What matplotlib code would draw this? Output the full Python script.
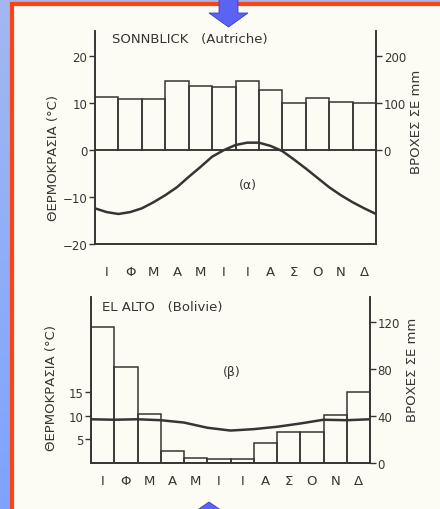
import numpy as np
import matplotlib
matplotlib.use('Agg')
import matplotlib.pyplot as plt
from matplotlib.patches import Rectangle, Polygon

# Data
months = ['Ι', 'Φ', 'Μ', 'Α', 'Μ', 'Ι', 'Ι', 'Α', 'Σ', 'Ο', 'Ν', 'Δ']

# Sonnblick: rain per month (mm), temperature every half month (°C)
sonn_rain = [114, 108, 108, 148, 137, 135, 148, 128, 100, 112, 103, 101]
sonn_temp = [-12.4, -13.2, -13.6, -13.2, -12.4, -11.1, -9.6, -7.9, -5.7, -3.6,
             -1.4, 0.0, 1.1, 1.6, 1.6, 0.9, -0.2, -2.0, -3.9, -5.9,
             -7.9, -9.6, -11.1, -12.4, -13.6]

# El Alto: rain per month (mm), temperature at month boundaries (°C)
alto_rain = [116, 82, 42, 10, 4, 3.5, 3.4, 17, 26, 26, 41, 60]
alto_temp = [9.3, 9.2, 9.3, 9.1, 8.6, 7.5, 6.9, 7.2, 7.7, 8.4, 9.2, 9.1, 9.3]

ink = '#353535'
paper = '#fcfcf4'
W, H = 440, 510

fig = plt.figure(figsize=(4.4, 5.1), dpi=100)

# background: blue gradient, red frame, arrows (pixel coords)
bg = fig.add_axes([0, 0, 1, 1])
bg.set_xlim(0, W)
bg.set_ylim(H, 0)
bg.axis('off')
grad = np.linspace(0, 1, 256).reshape(-1, 1)
bg.imshow(grad, cmap=matplotlib.colors.LinearSegmentedColormap.from_list(
    'bl', ['#a3b8f0', '#7ea3ff']), extent=[0, W, H, 0], aspect='auto')
bg.add_patch(Rectangle((11.5, 5), W, H, facecolor=paper,
                       edgecolor='#ff4212', linewidth=3))
bg.add_patch(Polygon([(219, -2), (238, -2), (238, 14), (248, 14), (228.5, 28),
                      (209, 14), (219, 14)], closed=True,
                     facecolor='#5a63f2', edgecolor='#3a40c0', linewidth=0.6))
bg.add_patch(Polygon([(209, 503), (228, 516), (190, 516)], closed=True,
                     facecolor='#5a63f2', edgecolor='#3a40c0', linewidth=0.6))

font = dict(family='DejaVu Sans', color=ink)


def frame(ax):
    ax.set_facecolor('none')
    ax.spines['top'].set_visible(False)
    for s in ['left', 'right', 'bottom']:
        ax.spines[s].set_color(ink)
        ax.spines[s].set_linewidth(1.2)
    ax.tick_params(colors=ink, labelsize=8.5, width=1, length=4, pad=1.5)


# ---- (a) Sonnblick ----
ax1 = fig.add_axes([95 / W, 1 - 245 / H, 281 / W, 213 / H])
ax1b = ax1.twinx()
frame(ax1)
frame(ax1b)
ax1.set_xlim(0, 12)
ax1.set_ylim(-20, 25.4)
ax1b.set_ylim(-200, 254)
ax1b.bar(np.arange(12) + 0.5, sonn_rain, width=1, facecolor='none',
         edgecolor=ink, linewidth=1.1)
ax1.axhline(0, color=ink, linewidth=1.1)
ax1.plot(np.arange(0, 12.5, 0.5), sonn_temp, color=ink, linewidth=1.8)
ax1.set_yticks([-20, -10, 0, 10, 20])
ax1b.set_yticks([0, 100, 200])
ax1.set_xticks(np.arange(12) + 0.5, months)
ax1.tick_params(axis='x', length=0, pad=15)
for t in ax1.get_xticklabels():
    t.set_fontsize(9.5)

# ---- (b) El Alto ----
ax2 = fig.add_axes([91 / W, 1 - 464 / H, 279 / W, 166 / H])
ax2b = ax2.twinx()
frame(ax2)
frame(ax2b)
ax2.set_xlim(0, 12)
ax2.set_ylim(0, 35.3)
ax2b.set_ylim(0, 141.2)
ax2b.bar(np.arange(12) + 0.5, alto_rain, width=1, facecolor='none',
         edgecolor=ink, linewidth=1.1)
ax2.plot(np.arange(13), alto_temp, color=ink, linewidth=1.8)
ax2.set_yticks([5, 10, 15])
ax2b.set_yticks([0, 40, 80, 120])
ax2.set_xticks(np.arange(12) + 0.5, months)
ax2.tick_params(axis='x', length=0, pad=8)
for t in ax2.get_xticklabels():
    t.set_fontsize(9.5)

# titles and axis labels (pixel coords on the background)
bg.text(112, 40, 'SONNBLICK   (Autriche)', fontsize=9.5, va='center', **font)
bg.text(248, 186, '(α)', fontsize=9, ha='center', va='center', **font)
bg.text(102, 308, 'EL ALTO   (Bolivie)', fontsize=9.5, va='center', **font)
bg.text(232, 373, '(β)', fontsize=9, ha='center', va='center', **font)
bg.text(54, 158, 'ΘΕΡΜΟΚΡΑΣΙΑ (°C)', fontsize=9.5, rotation=90,
        ha='center', va='center', **font)
bg.text(416, 122, 'ΒΡΟΧΕΣ ΣΕ mm', fontsize=9.5, rotation=90,
        ha='center', va='center', **font)
bg.text(52, 388, 'ΘΕΡΜΟΚΡΑΣΙΑ (°C)', fontsize=9.5, rotation=90,
        ha='center', va='center', **font)
bg.text(413, 370, 'ΒΡΟΧΕΣ ΣΕ mm', fontsize=9.5, rotation=90,
        ha='center', va='center', **font)

fig.savefig('out.png', dpi=100, facecolor='white')
